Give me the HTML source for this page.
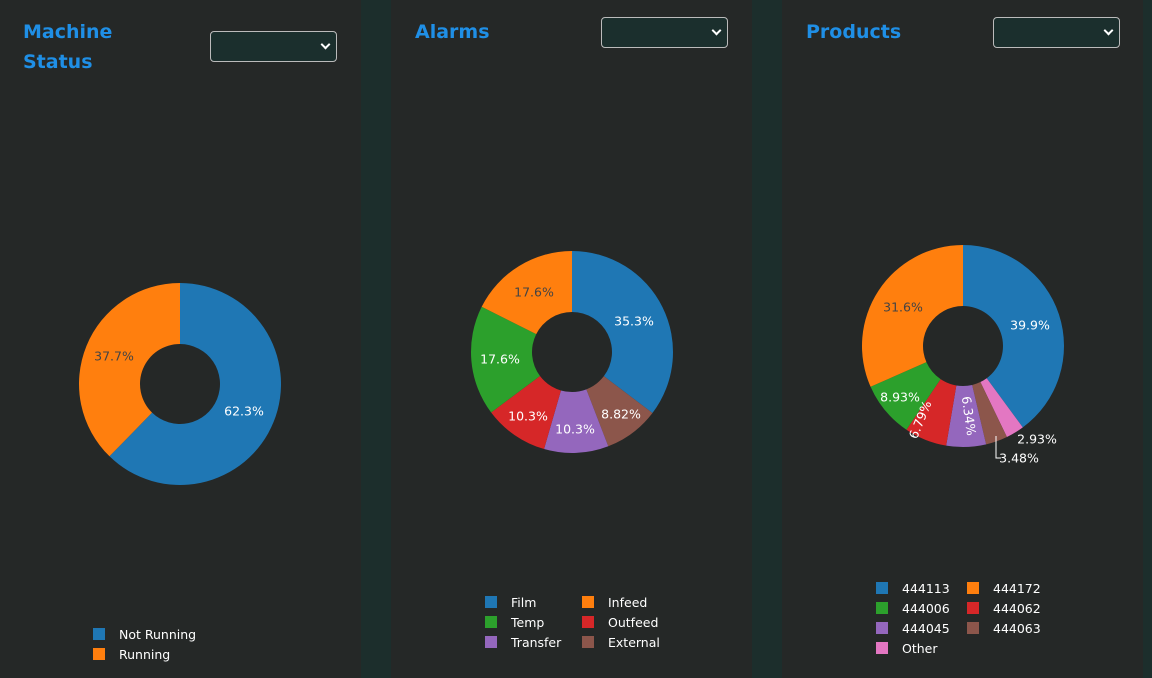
<!DOCTYPE html>
<html><head><style>
body{margin:0;width:1152px;height:678px;background:#1c2e2c;overflow:hidden;font-family:"Liberation Sans","DejaVu Sans",sans-serif}
.p{position:absolute;top:0;height:678px;width:361px;background:#252827}
.t{position:absolute;color:#1f8fe6;font-weight:bold;font-size:19px;line-height:30px;font-family:"DejaVu Sans","Liberation Sans",sans-serif}
.s{position:absolute;width:125px;height:29px;background:#1b2f2d;border:1px solid #bbb;border-radius:4px}
.s:after{content:"";position:absolute;right:7px;top:9px;width:5px;height:5px;border-right:2px solid #fff;border-bottom:2px solid #fff;transform:rotate(45deg)}
svg{position:absolute;left:0;top:0}
text{font-family:"DejaVu Sans","Liberation Sans",sans-serif;font-size:12.5px}
</style></head><body>
<div class="p" style="left:0"></div>
<div class="p" style="left:391px"></div>
<div class="p" style="left:782px"></div>
<div class="t" style="left:23px;top:17px">Machine<br>Status</div>
<div class="t" style="left:415px;top:17px">Alarms</div>
<div class="t" style="left:806px;top:17px">Products</div>
<div class="s" style="left:210px;top:31px"></div>
<div class="s" style="left:601px;top:17px"></div>
<div class="s" style="left:993px;top:17px"></div>
<svg width="1152" height="678" id="sv">
<g id="pies"></g>
<g fill="#fff" text-anchor="middle" dominant-baseline="middle">
<text x="244" y="412">62.3%</text><text x="114" y="357" fill="#444">37.7%</text>
<text x="634" y="322">35.3%</text><text x="534" y="293" fill="#444">17.6%</text>
<text x="500" y="360">17.6%</text><text x="528" y="417">10.3%</text>
<text x="575" y="430">10.3%</text><text x="621" y="415">8.82%</text>
<text x="1030" y="326">39.9%</text><text x="903" y="308" fill="#444">31.6%</text>
<text x="900" y="398">8.93%</text>
<text transform="translate(921,420) rotate(-68)">6.79%</text>
<text transform="translate(968,416) rotate(82)">6.34%</text>
<text x="1037" y="440">2.93%</text><text x="1019" y="459">3.48%</text>
</g>
<polyline points="996,436 996,458 1001,458" fill="none" stroke="#fff" stroke-width="1"/>
<g fill="#fff" font-size="13">
<rect x="93" y="628" width="12" height="12" fill="#1f77b4"/><text x="119" y="639">Not Running</text>
<rect x="93" y="648" width="12" height="12" fill="#ff7f0e"/><text x="119" y="659">Running</text>
<rect x="485" y="596" width="12" height="12" fill="#1f77b4"/><text x="511" y="607">Film</text>
<rect x="582" y="596" width="12" height="12" fill="#ff7f0e"/><text x="608" y="607">Infeed</text>
<rect x="485" y="616" width="12" height="12" fill="#2ca02c"/><text x="511" y="627">Temp</text>
<rect x="582" y="616" width="12" height="12" fill="#d62728"/><text x="608" y="627">Outfeed</text>
<rect x="485" y="636" width="12" height="12" fill="#9467bd"/><text x="511" y="647">Transfer</text>
<rect x="582" y="636" width="12" height="12" fill="#8c564b"/><text x="608" y="647">External</text>
<rect x="876" y="582" width="12" height="12" fill="#1f77b4"/><text x="902" y="593">444113</text>
<rect x="967" y="582" width="12" height="12" fill="#ff7f0e"/><text x="993" y="593">444172</text>
<rect x="876" y="602" width="12" height="12" fill="#2ca02c"/><text x="902" y="613">444006</text>
<rect x="967" y="602" width="12" height="12" fill="#d62728"/><text x="993" y="613">444062</text>
<rect x="876" y="622" width="12" height="12" fill="#9467bd"/><text x="902" y="633">444045</text>
<rect x="967" y="622" width="12" height="12" fill="#8c564b"/><text x="993" y="633">444063</text>
<rect x="876" y="642" width="12" height="12" fill="#e377c2"/><text x="902" y="653">Other</text>
</g>
</svg>
<script>
function pie(cx,cy,R,r,vals){var g=document.getElementById('pies'),a=0,tot=vals.reduce(function(s,v){return s+v[0]},0),h='';
vals.forEach(function(v){var a0=a,a1=a+v[0]/tot*2*Math.PI;a=a1;var L=(a1-a0)>Math.PI?1:0;
function P(rr,t){return (cx+rr*Math.sin(t)).toFixed(2)+','+(cy-rr*Math.cos(t)).toFixed(2)}
h+='<path fill="'+v[1]+'" d="M'+P(R,a0)+'A'+R+','+R+' 0 '+L+' 1 '+P(R,a1)+'L'+P(r,a1)+'A'+r+','+r+' 0 '+L+' 0 '+P(r,a0)+'Z"/>';});
g.innerHTML+=h;}
var B='#1f77b4',O='#ff7f0e',G='#2ca02c',Rd='#d62728',Pu='#9467bd',Br='#8c564b',Pk='#e377c2';
pie(180,384,101,40,[[62.3,B],[37.7,O]]);
pie(572,352,101,40,[[35.3,B],[8.82,Br],[10.3,Pu],[10.3,Rd],[17.6,G],[17.6,O]]);
pie(963,346,101,40,[[39.9,B],[2.93,Pk],[3.48,Br],[6.34,Pu],[6.79,Rd],[8.93,G],[31.6,O]]);
</script>
</body></html>
